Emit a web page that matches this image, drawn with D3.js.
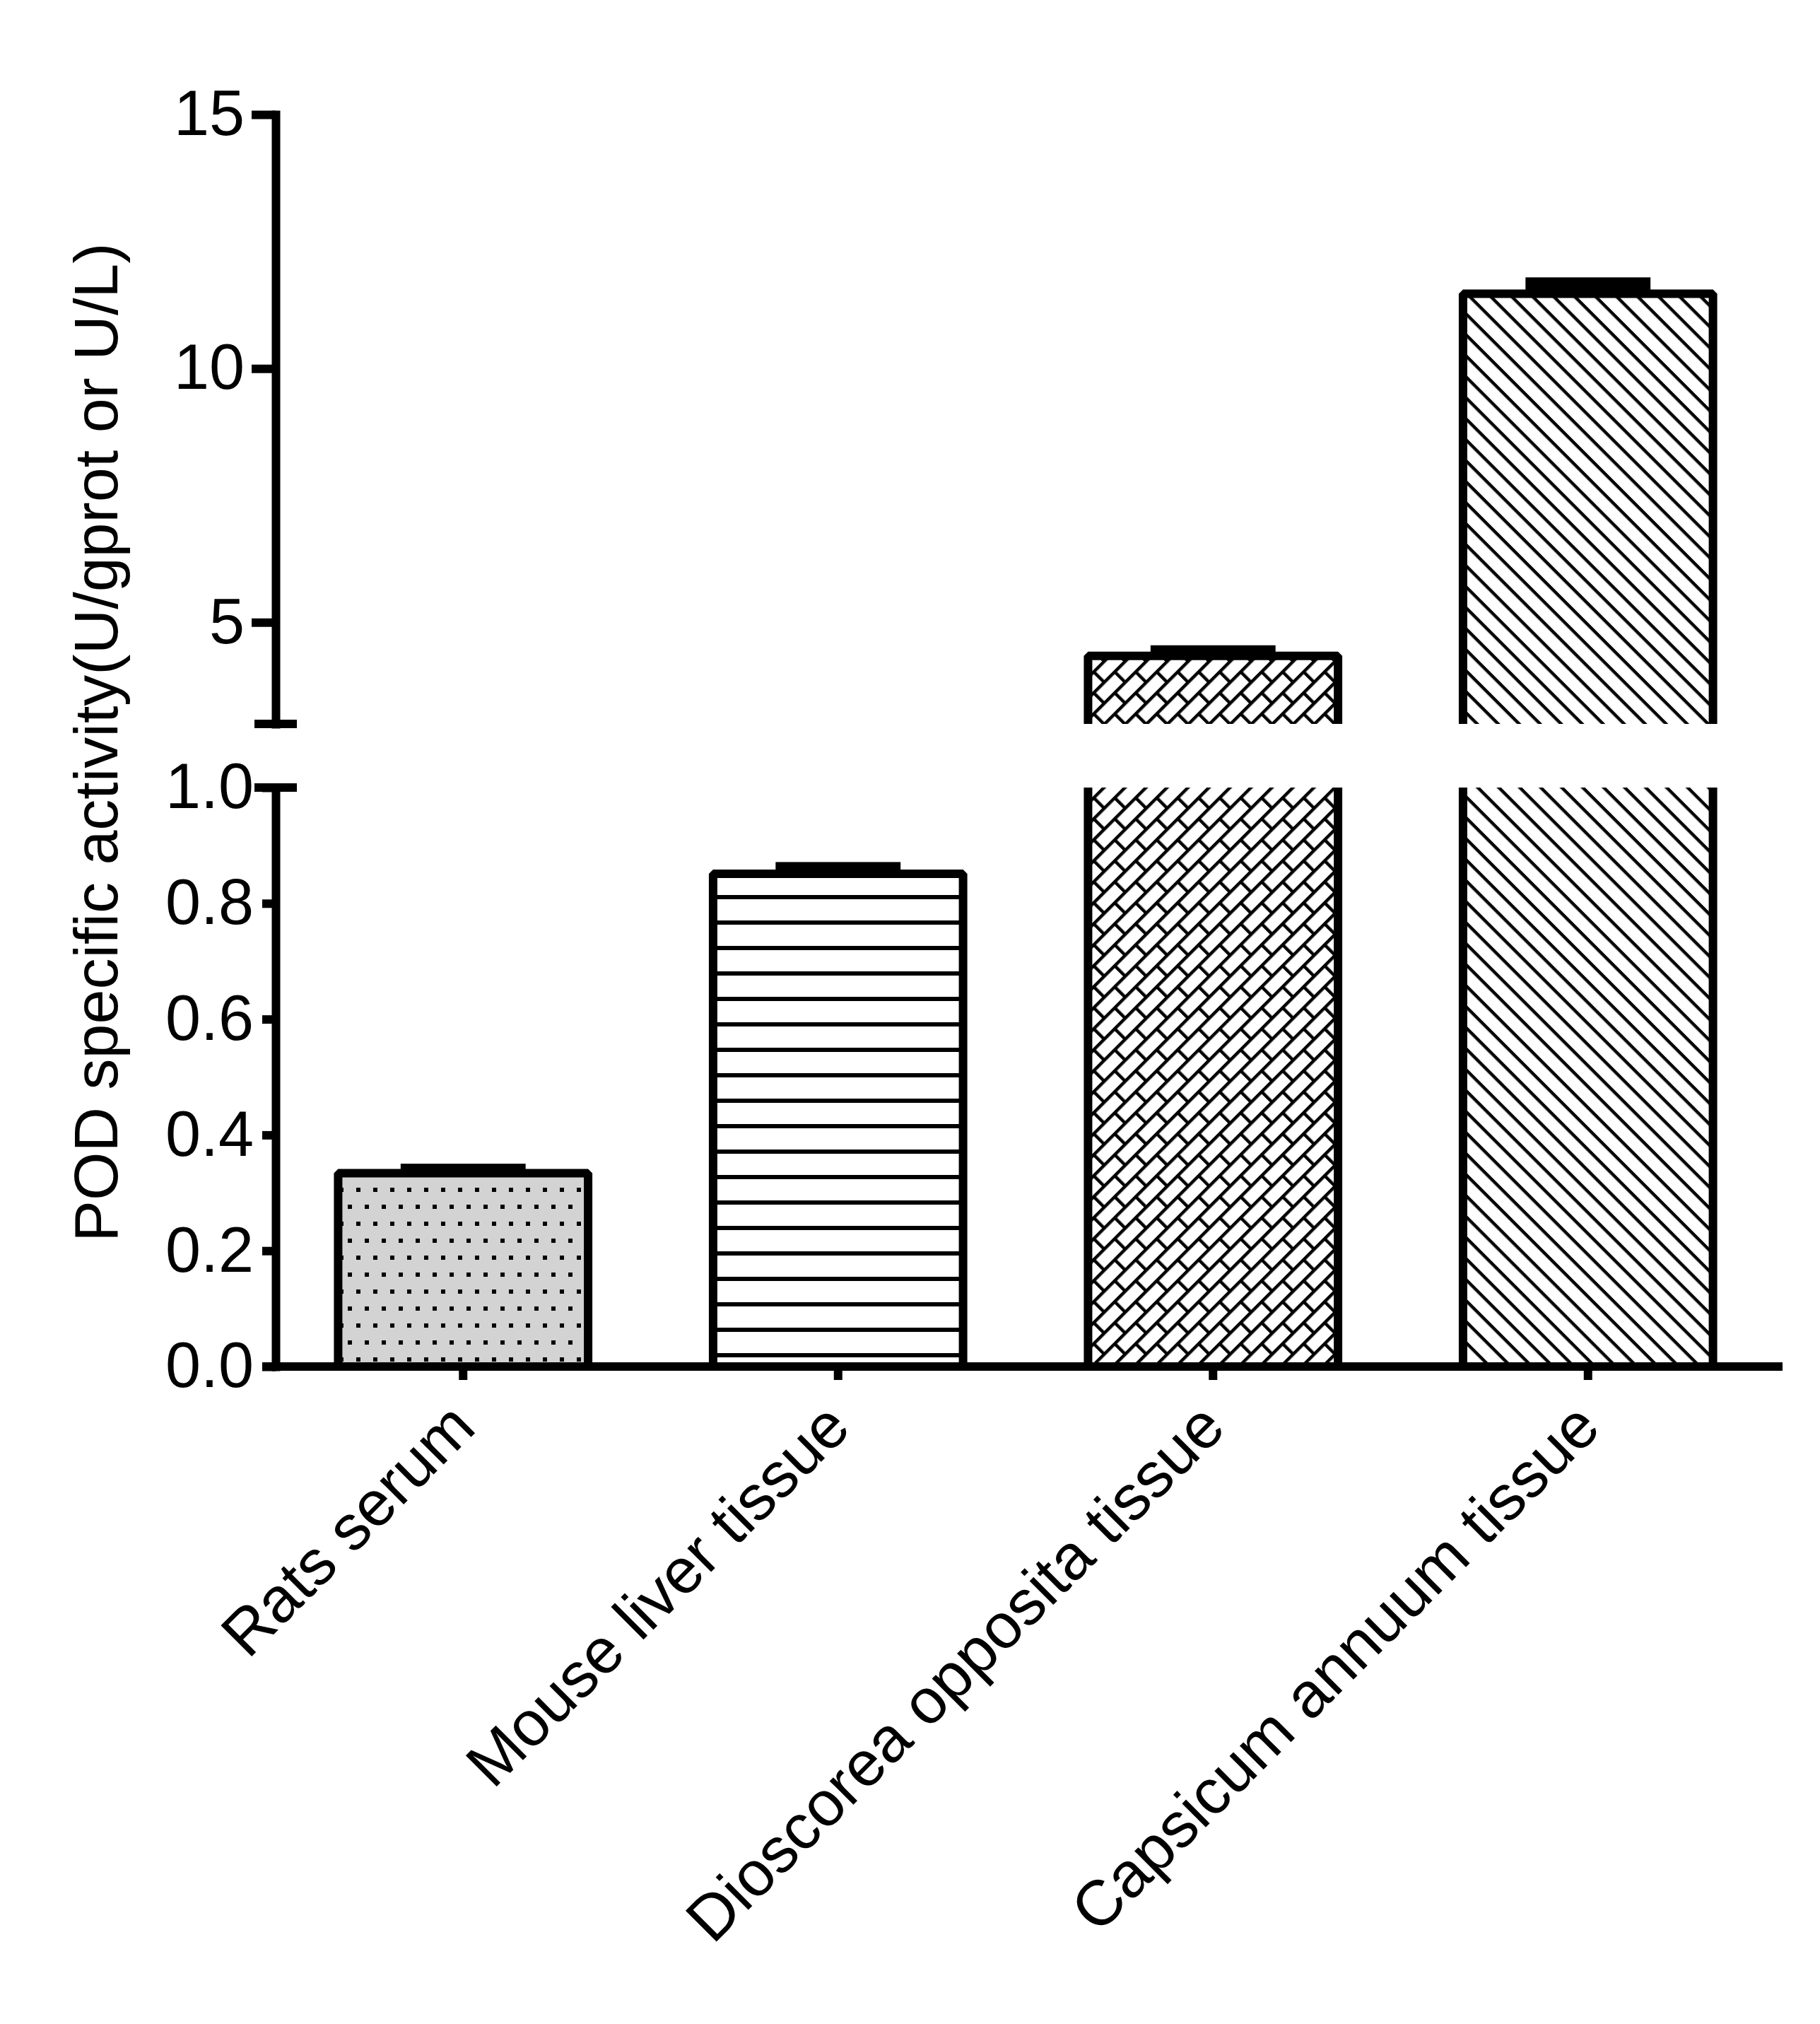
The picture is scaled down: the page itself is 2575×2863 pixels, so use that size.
<!DOCTYPE html>
<html>
<head>
<meta charset="utf-8">
<script src="https://cdn.jsdelivr.net/npm/d3@7"></script>
<style>
  body { margin: 0; background: #fff; }
  text { font-family: "Liberation Sans", Arial, sans-serif; fill: #000; }
</style>
</head>
<body>
<svg></svg>
<script>
// POD specific activity, broken y axis bar chart
const categories = ["Rats serum", "Mouse liver tissue", "Dioscorea opposita tissue", "Capsicum annuum tissue"];
const means = [0.334, 0.851, 4.34, 11.47];
const sems = [0.009, 0.013, 0.125, 0.24];
const lowTicks = [0, 0.2, 0.4, 0.6, 0.8, 1.0];
const highTicks = [5, 10, 15];
const breakLow = 1;
const breakHigh = 3;
const fills = ["url(#dots)", "url(#hlines)", "url(#bricks)", "url(#diag)"];

const w = 2575;
const h = 2863;
const svg = d3.select("svg").attr("width", w).attr("height", h);
const lw = 12;

// patterns
const defs = svg.append("defs");
const dots = defs.append("pattern").attr("id", "dots")
  .attr("patternUnits", "userSpaceOnUse").attr("width", 24).attr("height", 48);
dots.append("rect").attr("width", 24).attr("height", 48).attr("fill", "#d3d3d3");
dots.append("rect").attr("x", 0).attr("y", 0).attr("width", 6).attr("height", 6).attr("fill", "#000");
dots.append("rect").attr("x", 12).attr("y", 24).attr("width", 6).attr("height", 6).attr("fill", "#000");

const hl = defs.append("pattern").attr("id", "hlines")
  .attr("patternUnits", "userSpaceOnUse").attr("y", 6).attr("width", 36).attr("height", 36);
hl.append("rect").attr("width", 36).attr("height", 36).attr("fill", "#fff");
hl.append("rect").attr("width", 36).attr("height", 6).attr("fill", "#000");

const dg = defs.append("pattern").attr("id", "diag")
  .attr("patternUnits", "userSpaceOnUse").attr("width", 10).attr("height", 21)
  .attr("patternTransform", "rotate(45)");
dg.append("rect").attr("width", 10).attr("height", 21).attr("fill", "#fff");
dg.append("rect").attr("width", 10).attr("height", 4.5).attr("fill", "#000");

const br = defs.append("pattern").attr("id", "bricks")
  .attr("patternUnits", "userSpaceOnUse").attr("width", 42).attr("height", 42)
  .attr("patternTransform", "rotate(-45)");
br.append("rect").attr("width", 42).attr("height", 42).attr("fill", "#fff");
br.append("rect").attr("width", 42).attr("height", 4.5).attr("fill", "#000");
br.append("rect").attr("y", 21).attr("width", 42).attr("height", 4.5).attr("fill", "#000");
br.append("rect").attr("width", 4.5).attr("height", 21).attr("fill", "#000");
br.append("rect").attr("x", 21).attr("y", 21).attr("width", 4.5).attr("height", 21).attr("fill", "#000");

// scales
const x = d3.scaleBand().domain(categories).range([390, 2512])
  .paddingInner(1 / 3).paddingOuter(1 / 6);
const yLow = d3.scaleLinear().domain([0, breakLow]).range([1933, 1114]);
const yHigh = d3.scaleLinear().domain([breakHigh, 15]).range([1024, 162]);

const rows = categories.map((c, i) => ({ c: c, v: means[i], s: sems[i], f: fills[i] }));
const bw = x.bandwidth();

const bars = svg.append("g").selectAll("g").data(rows).enter().append("g");

bars.each(function (d) {
  const g = d3.select(this);
  const x0 = x(d.c), x1 = x0 + bw;
  const lowTop = yLow(Math.min(d.v, breakLow));
  g.append("rect").attr("x", x0).attr("y", lowTop)
    .attr("width", bw).attr("height", yLow(0) - lowTop).attr("fill", d.f);
  if (d.v <= breakLow) {
    g.append("path")
      .attr("d", `M${x0},${yLow(0)}V${lowTop}H${x1}V${yLow(0)}`);
  } else {
    g.append("path")
      .attr("d", `M${x0},${yLow(0)}V${lowTop}M${x1},${lowTop}V${yLow(0)}`);
    const top = yHigh(d.v);
    g.append("rect").attr("x", x0).attr("y", top)
      .attr("width", bw).attr("height", yHigh(breakHigh) - top).attr("fill", d.f);
    g.append("path")
      .attr("d", `M${x0},${yHigh(breakHigh)}V${top}H${x1}V${yHigh(breakHigh)}`);
  }
  // error bar (upper only), drawn as a solid cap block
  const sc = d.v <= breakLow ? yLow : yHigh;
  const cx = x0 + bw / 2;
  const capTop = sc(d.v + d.s) - lw / 2;
  g.append("rect").attr("class", "err")
    .attr("x", cx - bw / 4).attr("width", bw / 2)
    .attr("y", capTop).attr("height", sc(d.v) - capTop)
    .attr("fill", "#000");
});
bars.selectAll("path")
  .attr("fill", "none").attr("stroke", "#000")
  .attr("stroke-width", lw).attr("stroke-linejoin", "bevel");

// y axes
const axisX = 390;
const yAxisHigh = svg.append("g").attr("transform", `translate(${axisX},0)`)
  .call(d3.axisLeft(yHigh).tickValues(highTicks).tickSize(34).tickSizeOuter(0).tickPadding(10));
const yAxisLow = svg.append("g").attr("transform", `translate(${axisX},0)`)
  .call(d3.axisLeft(yLow).tickValues(lowTicks).tickFormat(d3.format(".1f"))
    .tickSize(19).tickSizeOuter(0).tickPadding(12));

[yAxisHigh, yAxisLow].forEach(a => {
  a.select(".domain").attr("stroke-width", lw).attr("stroke-linecap", "square");
  a.selectAll(".tick line").attr("stroke-width", lw);
  a.selectAll(".tick text").attr("font-size", 90)
    .style("font-family", "'Liberation Sans', Arial, sans-serif");
});

// break marks
svg.append("g").selectAll("line").data([yHigh(breakHigh), yLow(breakLow)]).enter()
  .append("line")
  .attr("x1", axisX - 30).attr("x2", axisX + 30)
  .attr("y1", d => d).attr("y2", d => d)
  .attr("stroke", "#000").attr("stroke-width", lw);

// x axis
const xAxis = svg.append("g").attr("transform", `translate(0,${yLow(0)})`)
  .call(d3.axisBottom(x).tickSize(19).tickSizeOuter(0));
xAxis.select(".domain").remove();
xAxis.append("line").attr("x1", axisX - 19).attr("x2", 2522)
  .attr("stroke", "#000").attr("stroke-width", lw);
xAxis.selectAll(".tick line").attr("stroke-width", lw);
xAxis.selectAll(".tick text")
  .attr("x", 0).attr("y", 0).attr("dy", 0)
  .attr("text-anchor", "end")
  .attr("transform", "translate(21,90) rotate(-45)")
  .attr("font-size", 90)
  .style("font-family", "'Liberation Sans', Arial, sans-serif");

// y title
svg.append("text")
  .attr("transform", "translate(166,1050) rotate(-90)")
  .attr("text-anchor", "middle")
  .attr("font-size", 88)
  .text("POD specific activity(U/gprot or U/L)");
</script>
</body>
</html>
